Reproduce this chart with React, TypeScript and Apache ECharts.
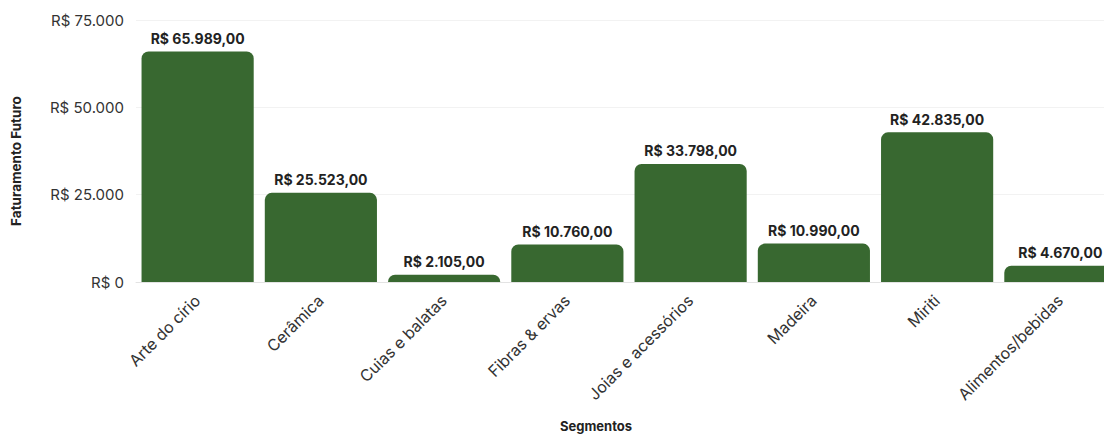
import React, { useEffect, useRef } from "react";
import * as echarts from "echarts";

const categories = [
  "Arte do círio",
  "Cerâmica",
  "Cuias e balatas",
  "Fibras & ervas",
  "Joias e acessórios",
  "Madeira",
  "Miriti",
  "Alimentos/bebidas",
];
const values = [65989, 25523, 2105, 10760, 33798, 10990, 42835, 4670];
const yTicks = [0, 25000, 50000, 75000];

const thousands = (n: number) => {
  const s = Math.floor(Math.abs(n)).toString();
  return s.replace(/\B(?=(\d{3})+(?!\d))/g, ".");
};
const money = (n: number) => {
  const cents = Math.round((n - Math.floor(n)) * 100)
    .toString()
    .padStart(2, "0");
  return "R$ " + thousands(n) + "," + cents;
};

export default function App() {
  const ref = useRef<HTMLDivElement>(null);
  useEffect(() => {
    if (!ref.current) return;
    const chart = echarts.init(ref.current, null, { renderer: "svg" });
    chart.setOption({
      animation: false,
      textStyle: { fontFamily: "Inter, 'Noto Sans', sans-serif" },
      grid: { left: 136, right: 2, top: 20, bottom: 150, containLabel: false },
      xAxis: {
        type: "category",
        data: categories,
        name: "Segmentos",
        nameLocation: "middle",
        nameGap: 137,
        nameTextStyle: {
          fontSize: 13,
          fontWeight: "bold",
          color: "#222",
          padding: [0, 66, 0, 0],
        },
        axisLine: { show: true, lineStyle: { color: "#e3e3e3", width: 1 } },
        axisTick: { show: false },
        axisLabel: {
          rotate: 45,
          fontSize: 16,
          color: "#333",
          margin: 16,
          interval: 0,
        },
      },
      yAxis: {
        type: "value",
        min: 0,
        max: 75000,
        interval: 25000,
        name: "Faturamento Futuro",
        nameLocation: "middle",
        nameGap: 113,
        nameTextStyle: {
          fontSize: 13.5,
          fontWeight: "bold",
          color: "#222",
          padding: [0, 0, 0, -20],
        },
        axisLine: { show: false },
        axisTick: { show: false },
        splitLine: { lineStyle: { color: "#f2f2f2", width: 1 } },
        axisLabel: {
          fontSize: 15,
          color: "#333",
          margin: 12,
          formatter: (v: number) =>
            yTicks.includes(v) ? "R$ " + thousands(v) : "",
        },
      },
      series: [
        {
          type: "bar",
          data: values,
          barCategoryGap: "9%",
          itemStyle: { color: "#386830", borderRadius: [7, 7, 0, 0] },
          label: {
            show: true,
            position: "top",
            distance: 6,
            fontSize: 14,
            fontWeight: "bold",
            color: "#222",
            formatter: (p: any) => money(p.value),
          },
        },
      ],
    });
    return () => chart.dispose();
  }, []);
  return (
    <div
      style={{
        position: "fixed",
        left: 0,
        top: 0,
        width: 1104,
        height: 437,
        overflow: "hidden",
        background: "#fff",
      }}
    >
      <div ref={ref} style={{ width: 1124, height: 437 }} />
    </div>
  );
}
